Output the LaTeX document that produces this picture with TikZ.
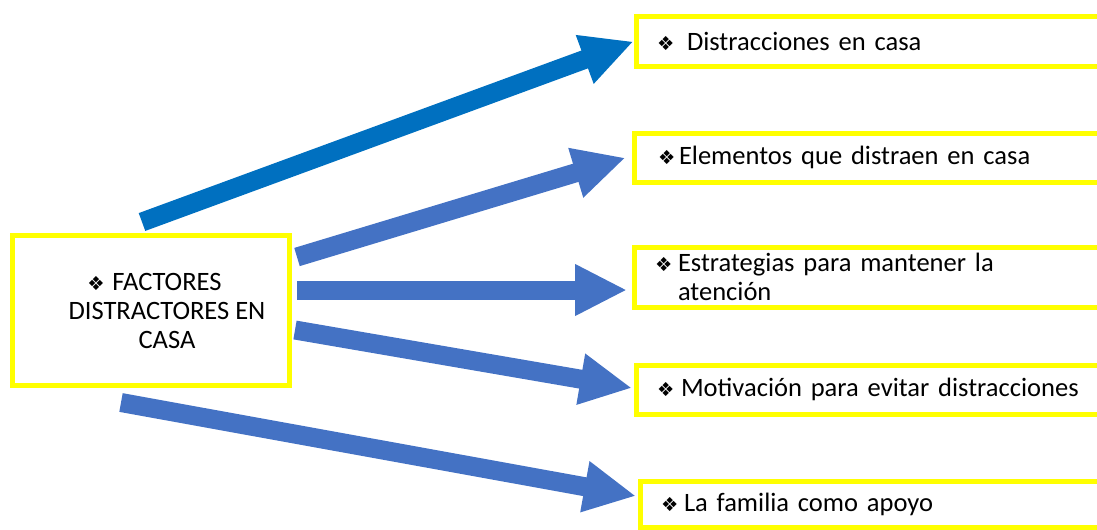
\documentclass[tikz,border=0pt]{standalone}
\usepackage{fontspec}
\setmainfont{Carlito}
\newfontfamily\symf{DejaVu Sans}
\usetikzlibrary{arrows.meta,calc}

% one pixel of the layout
\newdimen\pxu \pxu=0.02cm
\newcommand{\bul}[1]{\makebox[#1\pxu][l]{\symf\fontsize{11}{11}\selectfont ❖}}

\definecolor{boxyellow}{HTML}{FFFF00}
\definecolor{darkblue}{HTML}{0070C0}
\definecolor{midblue}{HTML}{4472C4}

\begin{document}
\begin{tikzpicture}[x=0.02cm,y=-0.02cm,
  ybox/.style={draw=boxyellow,line width=0.1cm,rectangle},
  rbox/.style={ybox,anchor=west,text width=8.6cm,inner xsep=0.42cm,inner ysep=0pt,
    align=left,font=\fontsize{15.1}{16.5}\selectfont},
  bigarrow/.style={line width=0.38cm,-{Triangle[length=1.04cm,width=0.96cm]}}]

\clip (0,0) rectangle (1097,529);   % page = reference frame

% Left box
\node[ybox,minimum width=5.56cm,minimum height=3.01cm] (main) at (151,310.25) {};
\node[font=\fontsize{15.1}{16.3}\selectfont,align=center] (mainlbl) at (167,311)
  {\llap{\bul{25}}FACTORES\\DISTRACTORES EN\\CASA};

% Right boxes
\node[rbox,minimum height=1.0cm]  (b1) at (633.5,41.5)  {\bul{30}Distracciones en casa};
\node[rbox,minimum height=0.99cm] (b2) at (631.5,157.75) {\hspace*{3\pxu}\bul{21}Elementos que distraen en casa};
\node[rbox,minimum height=1.2cm]  (b3) at (631.5,277)   {\bul{23}Estrategias para mantener la\\\hspace*{23\pxu}atención};
\node[rbox,minimum height=0.99cm] (b4) at (633.5,389.75) {\bul{24}Motivación para evitar distracciones};
\node[rbox,minimum height=0.92cm] (b5) at (637.5,504)   {\bul{23}La familia como apoyo};

% Tails of the arrows
\coordinate (t1) at (142,222);
\coordinate (t2) at (297,257);
\coordinate (t3) at (297,290);
\coordinate (t4) at (295,330);
\coordinate (t5) at (121,402.5);

% Arrows
\draw[bigarrow,darkblue] (t1) -- (b1.west);
\draw[bigarrow,midblue] (t2) -- ($(b2.west)+(-6,0)$);
\draw[bigarrow,midblue] (t3) -- ($(b3.west |- t3)+(-4.5,0)$);
\draw[bigarrow,midblue] (t4) -- ($(b4.west)+(-1.5,-1.75)$);
\draw[bigarrow,midblue] (t5) -- ($(b5.west)+(-1.5,-8)$);

\end{tikzpicture}
\end{document}
